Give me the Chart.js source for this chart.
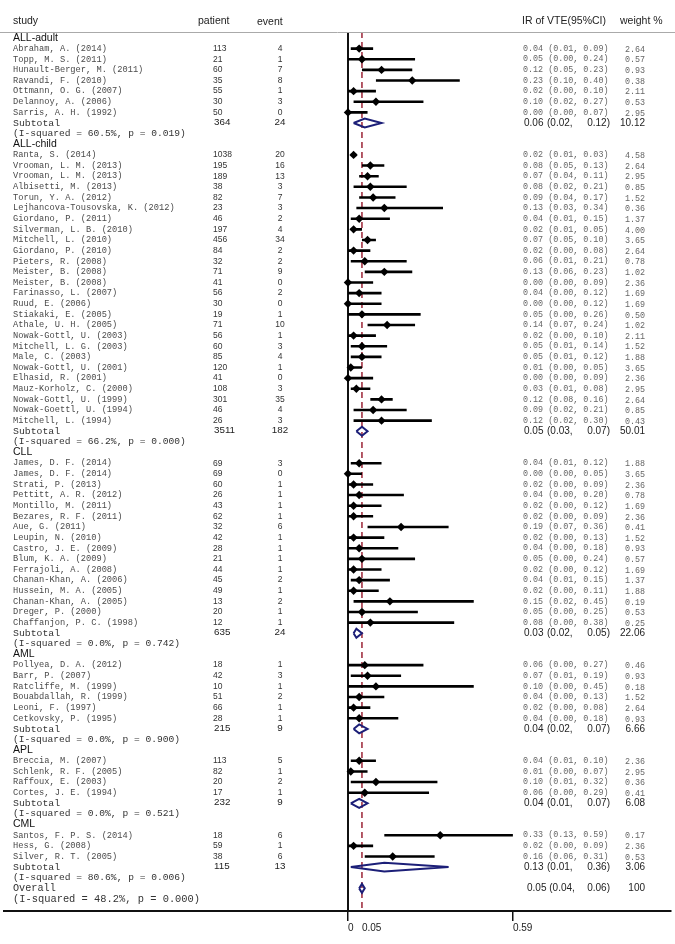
<!DOCTYPE html>
<html>
<head>
<meta charset="utf-8">
<script src="https://cdn.jsdelivr.net/npm/chart.js@4.4.1/dist/chart.umd.min.js"></script>
<style>
  html, body { margin: 0; padding: 0; background: #fff; }
</style>
</head>
<body>
<canvas id="forest" width="675" height="944"></canvas>
<script>
const GROUP_NAMES = ["ALL-adult", "ALL-child", "CLL", "AML", "APL", "CML"];
const GROUP_SIZES = [7, 26, 16, 6, 4, 3];

const STUDY_NAMES = [
  "Abraham, A. (2014)", "Topp, M. S. (2011)", "Hunault-Berger, M. (2011)", "Ravandi, F. (2010)",
  "Ottmann, O. G. (2007)", "Delannoy, A. (2006)", "Sarris, A. H. (1992)",
  "Ranta, S. (2014)", "Vrooman, L. M. (2013)", "Vrooman, L. M. (2013)", "Albisetti, M. (2013)",
  "Torun, Y. A. (2012)", "Lejhancova-Tousovska, K. (2012)", "Giordano, P. (2011)",
  "Silverman, L. B. (2010)", "Mitchell, L. (2010)", "Giordano, P. (2010)", "Pieters, R. (2008)",
  "Meister, B. (2008)", "Meister, B. (2008)", "Farinasso, L. (2007)", "Ruud, E. (2006)",
  "Stiakaki, E. (2005)", "Athale, U. H. (2005)", "Nowak-Gottl, U. (2003)", "Mitchell, L. G. (2003)",
  "Male, C. (2003)", "Nowak-Gottl, U. (2001)", "Elhasid, R. (2001)", "Mauz-Korholz, C. (2000)",
  "Nowak-Gottl, U. (1999)", "Nowak-Goettl, U. (1994)", "Mitchell, L. (1994)",
  "James, D. F. (2014)", "James, D. F. (2014)", "Strati, P. (2013)", "Pettitt, A. R. (2012)",
  "Montillo, M. (2011)", "Bezares, R. F. (2011)", "Aue, G. (2011)", "Leupin, N. (2010)",
  "Castro, J. E. (2009)", "Blum, K. A. (2009)", "Ferrajoli, A. (2008)", "Chanan-Khan, A. (2006)",
  "Hussein, M. A. (2005)", "Chanan-Khan, A. (2005)", "Dreger, P. (2000)", "Chaffanjon, P. C. (1998)",
  "Pollyea, D. A. (2012)", "Barr, P. (2007)", "Ratcliffe, M. (1999)", "Bouabdallah, R. (1999)",
  "Leoni, F. (1997)", "Cetkovsky, P. (1995)",
  "Breccia, M. (2007)", "Schlenk, R. F. (2005)", "Raffoux, E. (2003)", "Cortes, J. E. (1994)",
  "Santos, F. P. S. (2014)", "Hess, G. (2008)", "Silver, R. T. (2005)"
];
const PATIENTS = [
  113, 21, 60, 35, 55, 30, 50,
  1038, 195, 189, 38, 82, 23, 46, 197, 456, 84, 32, 71, 41, 56, 30, 19, 71, 56, 60, 85, 120, 41, 108, 301, 46, 26,
  69, 69, 60, 26, 43, 62, 32, 42, 28, 21, 44, 45, 49, 13, 20, 12,
  18, 42, 10, 51, 66, 28,
  113, 82, 20, 17,
  18, 59, 38
];
const EVENTS = [
  4, 1, 7, 8, 1, 3, 0,
  20, 16, 13, 3, 7, 3, 2, 4, 34, 2, 2, 9, 0, 2, 0, 1, 10, 1, 3, 4, 1, 0, 3, 35, 4, 3,
  3, 0, 1, 1, 1, 1, 6, 1, 1, 1, 1, 2, 1, 2, 1, 1,
  1, 3, 1, 2, 1, 1,
  5, 1, 2, 1,
  6, 1, 6
];
const ESTIMATES = [
  0.04, 0.05, 0.12, 0.23, 0.02, 0.10, 0.00,
  0.02, 0.08, 0.07, 0.08, 0.09, 0.13, 0.04, 0.02, 0.07, 0.02, 0.06, 0.13, 0.00, 0.04, 0.00, 0.05, 0.14, 0.02, 0.05, 0.05, 0.01, 0.00, 0.03, 0.12, 0.09, 0.12,
  0.04, 0.00, 0.02, 0.04, 0.02, 0.02, 0.19, 0.02, 0.04, 0.05, 0.02, 0.04, 0.02, 0.15, 0.05, 0.08,
  0.06, 0.07, 0.10, 0.04, 0.02, 0.04,
  0.04, 0.01, 0.10, 0.06,
  0.33, 0.02, 0.16
];
const LOWER = [
  0.01, 0.00, 0.05, 0.10, 0.00, 0.02, 0.00,
  0.01, 0.05, 0.04, 0.02, 0.04, 0.03, 0.01, 0.01, 0.05, 0.00, 0.01, 0.06, 0.00, 0.00, 0.00, 0.00, 0.07, 0.00, 0.01, 0.01, 0.00, 0.00, 0.01, 0.08, 0.02, 0.02,
  0.01, 0.00, 0.00, 0.00, 0.00, 0.00, 0.07, 0.00, 0.00, 0.00, 0.00, 0.01, 0.00, 0.02, 0.00, 0.00,
  0.00, 0.01, 0.00, 0.00, 0.00, 0.00,
  0.01, 0.00, 0.01, 0.00,
  0.13, 0.00, 0.06
];
const UPPER = [
  0.09, 0.24, 0.23, 0.40, 0.10, 0.27, 0.07,
  0.03, 0.13, 0.11, 0.21, 0.17, 0.34, 0.15, 0.05, 0.10, 0.08, 0.21, 0.23, 0.09, 0.12, 0.12, 0.26, 0.24, 0.10, 0.14, 0.12, 0.05, 0.09, 0.08, 0.16, 0.21, 0.30,
  0.12, 0.05, 0.09, 0.20, 0.12, 0.09, 0.36, 0.13, 0.18, 0.24, 0.12, 0.15, 0.11, 0.45, 0.25, 0.38,
  0.27, 0.19, 0.45, 0.13, 0.08, 0.18,
  0.10, 0.07, 0.32, 0.29,
  0.59, 0.09, 0.31
];
const WEIGHTS = [
  2.64, 0.57, 0.93, 0.38, 2.11, 0.53, 2.95,
  4.58, 2.64, 2.95, 0.85, 1.52, 0.36, 1.37, 4.00, 3.65, 2.64, 0.78, 1.02, 2.36, 1.69, 1.69, 0.50, 1.02, 2.11, 1.52, 1.88, 3.65, 2.36, 2.95, 2.64, 0.85, 0.43,
  1.88, 3.65, 2.36, 0.78, 1.69, 2.36, 0.41, 1.52, 0.93, 0.57, 1.69, 1.37, 1.88, 0.19, 0.53, 0.25,
  0.46, 0.93, 0.18, 1.52, 2.64, 0.93,
  2.36, 2.95, 0.36, 0.41,
  0.17, 2.36, 0.53
];

const SUB_PATIENTS = [364, 3511, 635, 215, 232, 115];
const SUB_EVENTS = [24, 182, 24, 9, 9, 13];
const SUB_EST = [0.06, 0.05, 0.03, 0.04, 0.04, 0.13];
const SUB_LOWER = [0.02, 0.03, 0.02, 0.02, 0.01, 0.01];
const SUB_UPPER = [0.12, 0.07, 0.05, 0.07, 0.07, 0.36];
const SUB_WEIGHTS = [10.12, 50.01, 22.06, 6.66, 6.08, 3.06];
const SUB_I2 = [60.5, 66.2, 0.0, 0.0, 0.0, 80.6];
const SUB_P = [0.019, 0.000, 0.742, 0.900, 0.521, 0.006];

const OVERALL_EST = 0.05;
const OVERALL_LOWER = 0.04;
const OVERALL_UPPER = 0.06;
const OVERALL_WEIGHT = 100;
const OVERALL_I2 = 48.2;
const OVERALL_P = 0.000;

const X_TICKS = [0, 0.05, 0.59];
const X_TICK_LABELS = ["0", "0.05", "0.59"];

// row layout: header, studies, subtotal, heterogeneity line per group
const rows = [];
let rowNo = 1;
let si = 0;
GROUP_NAMES.forEach((g, gi) => {
  rows.push({ type: "group", row: rowNo++, gi });
  for (let k = 0; k < GROUP_SIZES[gi]; k++) {
    rows.push({ type: "study", row: rowNo++, si: si++ });
  }
  rows.push({ type: "subtotal", row: rowNo++, gi });
  rows.push({ type: "het", row: rowNo++, gi });
});
rows.push({ type: "overall", row: rowNo++ });
rows.push({ type: "overallHet", row: rowNo++ });

const Y_MIN = 0.436;
const Y_MAX = 83.13;
const DH = 0.42; // half height of diamonds in rows

const studyRows = rows.filter((r) => r.type === "study");
const subRows = rows.filter((r) => r.type === "subtotal");
const overallRow = rows.find((r) => r.type === "overall");

const ciData = [];
studyRows.forEach((r) => {
  ciData.push({ x: LOWER[r.si], y: r.row }, { x: UPPER[r.si], y: r.row }, { x: null, y: null });
});

const pointData = studyRows.map((r) => ({ x: ESTIMATES[r.si], y: r.row }));

function diamond(lo, est, hi, r) {
  return [
    { x: lo, y: r }, { x: est, y: r - DH }, { x: hi, y: r },
    { x: est, y: r + DH }, { x: lo, y: r }, { x: null, y: null },
  ];
}
let diamondData = [];
subRows.forEach((r) => {
  diamondData = diamondData.concat(diamond(SUB_LOWER[r.gi], SUB_EST[r.gi], SUB_UPPER[r.gi], r.row));
});
diamondData = diamondData.concat(diamond(OVERALL_LOWER, OVERALL_EST, OVERALL_UPPER, overallRow.row));

const MONO = '"Liberation Mono", "DejaVu Sans Mono", monospace';
const SANS = '"Liberation Sans", Arial, sans-serif';

const COL_STUDY = 13;
const COL_PATIENT = 213;
const COL_EVENT = 280;
const COL_IR = 523;
const COL_WEIGHT = 645;

function fmt(v) {
  return v.toFixed(2);
}

const textPlugin = {
  id: "forestText",
  afterDraw(chart) {
    const { ctx, chartArea } = chart;
    const y = chart.scales.y;
    ctx.save();
    ctx.textBaseline = "middle";

    // header
    ctx.fillStyle = "#222";
    ctx.font = "10.5px " + SANS;
    ctx.textAlign = "left";
    ctx.fillText("study", COL_STUDY, 21);
    ctx.fillText("patient", 198, 21);
    ctx.fillText("event", 257, 22);
    ctx.fillText("IR of VTE(95%CI)", 522, 21);
    ctx.fillText("weight %", 620, 21);

    ctx.strokeStyle = "#aaa";
    ctx.lineWidth = 1;
    ctx.beginPath();
    ctx.moveTo(0, chartArea.top + 0.5);
    ctx.lineTo(675, chartArea.top + 0.5);
    ctx.stroke();

    rows.forEach((r) => {
      const py = y.getPixelForValue(r.row);
      ctx.textAlign = "left";
      if (r.type === "group") {
        ctx.fillStyle = "#111";
        ctx.font = "10.5px " + SANS;
        ctx.fillText(GROUP_NAMES[r.gi], COL_STUDY, py);
      } else if (r.type === "study") {
        const i = r.si;
        ctx.fillStyle = "#4a4a4a";
        ctx.font = "8.7px " + MONO;
        ctx.fillText(STUDY_NAMES[i], COL_STUDY, py);
        ctx.fillStyle = "#333";
        ctx.font = "8.5px " + SANS;
        ctx.fillText(String(PATIENTS[i]), COL_PATIENT, py);
        ctx.textAlign = "center";
        ctx.fillText(String(EVENTS[i]), COL_EVENT, py);
        ctx.textAlign = "left";
        ctx.fillStyle = "#666";
        ctx.font = "8.4px " + MONO;
        ctx.fillText(fmt(ESTIMATES[i]) + " (" + fmt(LOWER[i]) + ", " + fmt(UPPER[i]) + ")", COL_IR, py);
        ctx.textAlign = "right";
        ctx.fillText(fmt(WEIGHTS[i]), COL_WEIGHT, py + 1);
      } else if (r.type === "subtotal" || r.type === "overall") {
        const g = r.gi;
        const isSub = r.type === "subtotal";
        ctx.fillStyle = "#333";
        ctx.font = (isSub ? "9.8px " : "10.2px ") + MONO;
        ctx.fillText(isSub ? "Subtotal" : "Overall", COL_STUDY, py);
        ctx.fillStyle = "#222";
        ctx.font = "9.8px " + SANS;
        if (isSub) {
          ctx.fillText(String(SUB_PATIENTS[g]), COL_PATIENT + 1, py - 1);
          ctx.textAlign = "center";
          ctx.fillText(String(SUB_EVENTS[g]), COL_EVENT, py - 1);
          ctx.textAlign = "left";
        }
        const est = isSub ? SUB_EST[g] : OVERALL_EST;
        const lo = isSub ? SUB_LOWER[g] : OVERALL_LOWER;
        const hi = isSub ? SUB_UPPER[g] : OVERALL_UPPER;
        const w = isSub ? fmt(SUB_WEIGHTS[g]) : String(OVERALL_WEIGHT);
        ctx.font = "10px " + SANS;
        if (isSub) {
          ctx.fillText(fmt(est), COL_IR + 1, py);
          ctx.fillText("(" + fmt(lo) + ",", COL_IR + 24, py);
        } else {
          ctx.fillText(fmt(est) + " (" + fmt(lo) + ",", COL_IR + 4, py);
        }
        ctx.textAlign = "right";
        ctx.fillText(fmt(hi) + ")", 610, py);
        ctx.fillText(w, COL_WEIGHT, py);
      } else {
        const isSub = r.type === "het";
        const i2 = isSub ? SUB_I2[r.gi] : OVERALL_I2;
        const p = isSub ? SUB_P[r.gi] : OVERALL_P;
        ctx.fillStyle = "#333";
        ctx.font = (isSub ? "9.6px " : "10.4px ") + MONO;
        ctx.fillText("(I-squared = " + i2.toFixed(1) + "%, p = " + p.toFixed(3) + ")", COL_STUDY, py);
      }
    });
    ctx.restore();
  },
};

new Chart(document.getElementById("forest"), {
  type: "line",
  data: {
    datasets: [
      {
        label: "null line",
        data: [{ x: 0, y: Y_MIN }, { x: 0, y: Y_MAX }],
        borderColor: "#111",
        borderWidth: 2,
        pointRadius: 0,
        order: 10,
      },
      {
        label: "overall",
        data: [{ x: OVERALL_EST, y: Y_MIN }, { x: OVERALL_EST, y: Y_MAX }],
        borderColor: "#9b2335",
        borderWidth: 1.5,
        borderDash: [6, 4],
        pointRadius: 0,
        order: 9,
      },
      {
        label: "ci",
        data: ciData,
        borderColor: "#000",
        borderWidth: 2.6,
        borderCapStyle: "butt",
        pointRadius: 0,
        spanGaps: false,
        order: 5,
      },
      {
        label: "estimate",
        data: pointData,
        showLine: false,
        pointStyle: "rectRot",
        pointRadius: 4.2,
        pointBackgroundColor: "#000",
        pointBorderColor: "#000",
        pointBorderWidth: 0,
        order: 1,
      },
      {
        label: "pooled",
        data: diamondData,
        borderColor: "#1c1f78",
        borderWidth: 2,
        borderJoinStyle: "miter",
        backgroundColor: "#fff",
        fill: false,
        pointRadius: 0,
        spanGaps: false,
        order: 2,
      },
    ],
  },
  options: {
    responsive: false,
    animation: false,
    devicePixelRatio: 1,
    layout: { padding: { top: 32, left: 0, right: 0, bottom: 0 } },
    scales: {
      x: {
        type: "linear",
        min: -1.23,
        max: 1.155,
        afterFit: (scale) => {
          scale.height = 33;
        },
        afterBuildTicks: (scale) => {
          scale.ticks = X_TICKS.map((v) => ({ value: v }));
        },
        ticks: {
          align: "start",
          padding: 1,
          color: "#222",
          font: { family: SANS, size: 10 },
          callback: (v) => X_TICK_LABELS[X_TICKS.indexOf(v)],
        },
        grid: {
          drawOnChartArea: false,
          drawTicks: true,
          tickLength: 10,
          lineWidth: 1.5,
          color: (c) => (c.tick && c.tick.value === OVERALL_EST ? "rgba(0,0,0,0)" : "#111"),
        },
        border: { display: true, color: "#111", width: 2 },
      },
      y: {
        type: "linear",
        display: false,
        reverse: true,
        min: Y_MIN,
        max: Y_MAX,
      },
    },
    plugins: {
      legend: { display: false },
      tooltip: { enabled: false },
    },
  },
  plugins: [textPlugin],
});
</script>
</body>
</html>
